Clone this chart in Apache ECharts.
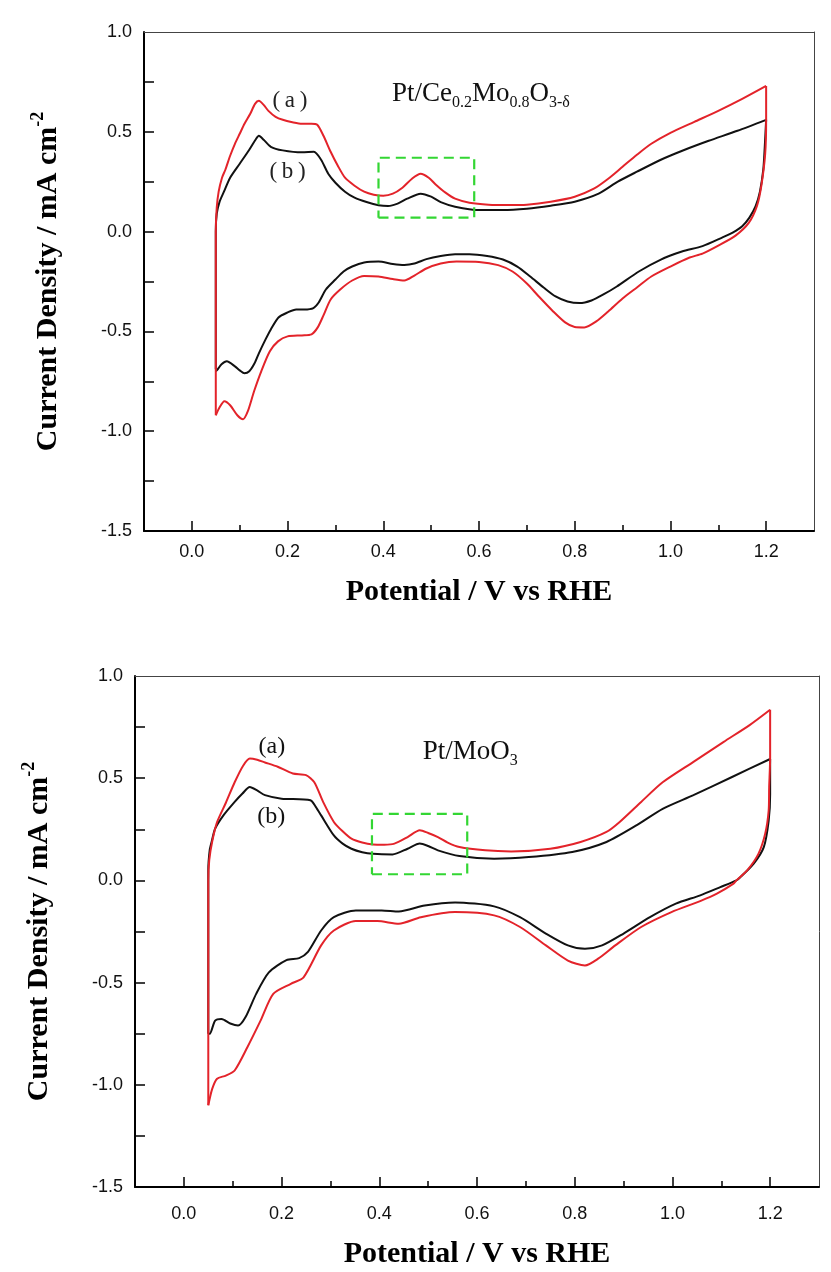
<!DOCTYPE html>
<html>
<head>
<meta charset="utf-8">
<script src="https://cdn.jsdelivr.net/npm/echarts@6/dist/echarts.min.js"></script>
<style>
  html, body { margin: 0; padding: 0; background: #fff; }
  #chart { width: 831px; height: 1272px; }
</style>
</head>
<body>
<div id="chart"></div>
<script>
// axis ticks
const xMajorTicks = [0, 0.2, 0.4, 0.6, 0.8, 1.0, 1.2]
const xMinorTicks = [0.1, 0.3, 0.5, 0.7, 0.9, 1.1]
const yLabelTicks = [-1.5, -1.0, -0.5, 0.0, 0.5, 1.0]
const yAllTicks = [-1.25, -1.0, -0.75, -0.5, -0.25, 0.0, 0.25, 0.5, 0.75]

// Pt/Ce0.2Mo0.8O3-δ  (top panel), [E (V), j (mA cm-2)]
const ceRedAnodic = [[0.05,-0.92],[0.05,-0.4],[0.05,0.0],[0.052,0.12],[0.056,0.2],[0.063,0.27],[0.07,0.31],[0.08,0.38],[0.09,0.44],[0.1,0.49],[0.11,0.54],[0.122,0.59],[0.132,0.64],[0.14,0.655],[0.15,0.635],[0.16,0.605],[0.175,0.575],[0.19,0.56],[0.21,0.548],[0.23,0.54],[0.25,0.54],[0.262,0.535],[0.275,0.48],[0.29,0.40],[0.305,0.33],[0.32,0.27],[0.34,0.23],[0.36,0.20],[0.38,0.185],[0.40,0.18],[0.42,0.19],[0.44,0.22],[0.46,0.265],[0.478,0.29],[0.495,0.27],[0.51,0.235],[0.53,0.195],[0.55,0.165],[0.58,0.145],[0.62,0.135],[0.66,0.133],[0.70,0.135],[0.75,0.15],[0.80,0.175],[0.84,0.215],[0.87,0.265],[0.90,0.325],[0.93,0.385],[0.96,0.44],[1.0,0.495],[1.05,0.55],[1.1,0.605],[1.15,0.665],[1.2,0.73]]
const ceRedCathodic = [[1.2,0.73],[1.2,0.56],[1.198,0.39],[1.19,0.23],[1.181,0.13],[1.164,0.045],[1.136,-0.02],[1.10,-0.07],[1.067,-0.11],[1.04,-0.13],[1.0,-0.175],[0.96,-0.225],[0.93,-0.28],[0.9,-0.335],[0.87,-0.4],[0.845,-0.45],[0.82,-0.48],[0.80,-0.478],[0.78,-0.455],[0.755,-0.40],[0.725,-0.325],[0.70,-0.26],[0.67,-0.2],[0.64,-0.168],[0.6,-0.152],[0.553,-0.15],[0.52,-0.16],[0.49,-0.185],[0.465,-0.22],[0.444,-0.245],[0.42,-0.238],[0.39,-0.225],[0.36,-0.222],[0.335,-0.245],[0.31,-0.29],[0.29,-0.34],[0.275,-0.42],[0.263,-0.48],[0.25,-0.515],[0.23,-0.52],[0.2,-0.525],[0.18,-0.55],[0.163,-0.6],[0.145,-0.7],[0.13,-0.8],[0.117,-0.9],[0.107,-0.94],[0.095,-0.92],[0.08,-0.87],[0.068,-0.85],[0.058,-0.88],[0.05,-0.92]]
const ceBlackAnodic = [[0.05,-0.69],[0.05,-0.3],[0.05,0.0],[0.052,0.09],[0.058,0.15],[0.067,0.2],[0.08,0.27],[0.1,0.34],[0.12,0.41],[0.133,0.46],[0.14,0.48],[0.15,0.46],[0.165,0.425],[0.19,0.407],[0.23,0.397],[0.255,0.40],[0.27,0.36],[0.285,0.29],[0.30,0.245],[0.32,0.2],[0.34,0.17],[0.365,0.148],[0.39,0.132],[0.41,0.128],[0.43,0.14],[0.45,0.165],[0.478,0.19],[0.50,0.175],[0.52,0.148],[0.55,0.125],[0.60,0.108],[0.65,0.108],[0.70,0.115],[0.75,0.13],[0.80,0.15],[0.85,0.19],[0.89,0.25],[0.93,0.3],[0.98,0.36],[1.03,0.41],[1.08,0.455],[1.14,0.505],[1.2,0.56]]
const ceBlackCathodic = [[1.2,0.56],[1.197,0.42],[1.194,0.31],[1.187,0.2],[1.178,0.127],[1.165,0.07],[1.15,0.027],[1.13,-0.005],[1.108,-0.03],[1.067,-0.073],[1.024,-0.1],[0.98,-0.14],[0.934,-0.2],[0.888,-0.275],[0.86,-0.315],[0.835,-0.345],[0.81,-0.358],[0.785,-0.35],[0.76,-0.325],[0.735,-0.28],[0.707,-0.225],[0.68,-0.175],[0.65,-0.14],[0.617,-0.122],[0.58,-0.113],[0.55,-0.113],[0.52,-0.122],[0.49,-0.138],[0.465,-0.16],[0.444,-0.167],[0.42,-0.162],[0.39,-0.15],[0.36,-0.155],[0.335,-0.175],[0.317,-0.2],[0.3,-0.24],[0.28,-0.29],[0.265,-0.355],[0.254,-0.383],[0.235,-0.39],[0.218,-0.39],[0.2,-0.405],[0.181,-0.43],[0.165,-0.49],[0.154,-0.54],[0.14,-0.61],[0.131,-0.66],[0.12,-0.7],[0.11,-0.71],[0.1,-0.695],[0.09,-0.675],[0.073,-0.65],[0.062,-0.665],[0.054,-0.69],[0.05,-0.7]]
const ceBox = [[0.39,0.07],[0.59,0.07],[0.59,0.37],[0.39,0.37],[0.39,0.07]]
const ceNotePos = [[0.205,0.655],[0.2,0.30],[0.604,0.69]]
const ceNoteText = ['{a|(\u2009a\u2009)}', '{a|(\u2009b\u2009)}', '{m|Pt/Ce}{s|0.2}{m|Mo}{s|0.8}{m|O}{s|3-δ}']

// Pt/MoO3 (bottom panel)
const moRedAnodic = [[0.05,-1.1],[0.05,-0.5],[0.05,0.0],[0.052,0.1],[0.058,0.19],[0.068,0.285],[0.086,0.38],[0.104,0.48],[0.121,0.56],[0.135,0.596],[0.15,0.59],[0.166,0.577],[0.192,0.556],[0.223,0.523],[0.25,0.515],[0.267,0.48],[0.285,0.384],[0.307,0.286],[0.325,0.24],[0.343,0.204],[0.365,0.185],[0.387,0.176],[0.41,0.175],[0.431,0.18],[0.458,0.212],[0.483,0.245],[0.50,0.232],[0.52,0.212],[0.54,0.185],[0.564,0.163],[0.617,0.147],[0.67,0.142],[0.75,0.155],[0.812,0.188],[0.865,0.237],[0.892,0.286],[0.936,0.384],[0.98,0.48],[1.043,0.58],[1.105,0.678],[1.158,0.76],[1.2,0.835]]
const moRedCathodic = [[1.2,0.835],[1.2,0.6],[1.198,0.456],[1.197,0.342],[1.19,0.23],[1.176,0.13],[1.153,0.049],[1.131,0.0],[1.125,-0.016],[1.091,-0.065],[1.058,-0.1],[0.998,-0.155],[0.936,-0.228],[0.883,-0.318],[0.848,-0.383],[0.821,-0.416],[0.786,-0.392],[0.741,-0.318],[0.688,-0.228],[0.635,-0.171],[0.555,-0.155],[0.485,-0.18],[0.44,-0.212],[0.396,-0.199],[0.352,-0.199],[0.307,-0.245],[0.281,-0.318],[0.245,-0.474],[0.219,-0.506],[0.183,-0.555],[0.157,-0.686],[0.13,-0.816],[0.104,-0.93],[0.086,-0.955],[0.068,-0.97],[0.058,-1.02],[0.05,-1.1]]
const moBlackAnodic = [[0.05,-0.75],[0.05,-0.3],[0.05,0.05],[0.053,0.15],[0.057,0.19],[0.064,0.253],[0.081,0.318],[0.104,0.384],[0.12,0.425],[0.135,0.457],[0.15,0.44],[0.166,0.417],[0.2,0.40],[0.259,0.392],[0.27,0.36],[0.281,0.318],[0.307,0.22],[0.325,0.18],[0.343,0.155],[0.365,0.138],[0.387,0.13],[0.427,0.127],[0.458,0.155],[0.483,0.18],[0.50,0.168],[0.52,0.147],[0.564,0.119],[0.635,0.106],[0.706,0.114],[0.795,0.139],[0.865,0.188],[0.927,0.27],[0.98,0.35],[1.043,0.417],[1.122,0.506],[1.2,0.594]]
const moBlackCathodic = [[1.2,0.594],[1.2,0.42],[1.197,0.293],[1.187,0.163],[1.166,0.081],[1.139,0.016],[1.131,0.0],[1.098,-0.033],[1.057,-0.073],[1.007,-0.114],[0.954,-0.18],[0.9,-0.26],[0.856,-0.318],[0.821,-0.335],[0.786,-0.318],[0.741,-0.26],[0.688,-0.18],[0.635,-0.127],[0.555,-0.108],[0.493,-0.123],[0.44,-0.152],[0.405,-0.147],[0.352,-0.147],[0.307,-0.18],[0.281,-0.245],[0.254,-0.35],[0.236,-0.38],[0.21,-0.39],[0.174,-0.45],[0.148,-0.555],[0.126,-0.67],[0.111,-0.71],[0.095,-0.70],[0.077,-0.678],[0.064,-0.686],[0.053,-0.75],[0.05,-0.75]]
const moBox = [[0.385,0.03],[0.58,0.03],[0.58,0.325],[0.385,0.325],[0.385,0.03]]
const moNotePos = [[0.18,0.654],[0.179,0.31],[0.586,0.63]]
const moNoteText = ['(a)', '(b)', '{m|Pt/MoO}{s|3}']

const RED = '#e3232a'
const BLACK = '#111'
const GREEN = '#33d633'
const SERIF = "'Liberation Serif', 'Times New Roman', serif"
const SANS = "'Liberation Sans', Arial, sans-serif"

const grids = [
  { left: 144, top: 32, width: 670, height: 499 },
  { left: 135, top: 676, width: 684, height: 511 }
]
const labelMargins = [12, 18]
const nameGaps = [46, 52]

const xAxes = []
const yAxes = []
grids.forEach((g, i) => {
  xAxes.push({
    gridIndex: i, type: 'value', min: -0.1, max: 1.3, position: 'bottom',
    axisLine: { onZero: false, lineStyle: { color: '#000', width: 2 } },
    axisTick: { inside: true, length: 10, customValues: xMajorTicks, lineStyle: { color: '#000', width: 1.5 } },
    axisLabel: { customValues: xMajorTicks, formatter: v => v.toFixed(1), fontFamily: SANS, fontSize: 18, color: '#111', margin: labelMargins[i] },
    splitLine: { show: false },
    name: 'Potential / V vs RHE', nameLocation: 'middle', nameGap: nameGaps[i],
    nameTextStyle: { fontFamily: SERIF, fontWeight: 'bold', fontSize: 30, color: '#000' }
  })
  xAxes.push({
    gridIndex: i, type: 'value', min: -0.1, max: 1.3, position: 'bottom',
    axisLine: { show: false, onZero: false },
    axisTick: { inside: true, length: 6, customValues: xMinorTicks, lineStyle: { color: '#000', width: 1.5 } },
    axisLabel: { show: false }, splitLine: { show: false }
  })
  xAxes.push({
    gridIndex: i, type: 'value', min: -0.1, max: 1.3, position: 'top',
    axisLine: { onZero: false, lineStyle: { color: '#444', width: 1 } },
    axisTick: { show: false }, axisLabel: { show: false }, splitLine: { show: false }
  })
  yAxes.push({
    gridIndex: i, type: 'value', min: -1.5, max: 1.0, position: 'left',
    axisLine: { onZero: false, lineStyle: { color: '#000', width: 2 } },
    axisTick: { inside: true, length: 10, customValues: yAllTicks, lineStyle: { color: '#000', width: 1.5 } },
    axisLabel: { customValues: yLabelTicks, formatter: v => v.toFixed(1), fontFamily: SANS, fontSize: 18, color: '#111', margin: 12 },
    splitLine: { show: false },
    name: '{t|Current Density / mA cm}{sup|-2}', nameLocation: 'middle', nameRotate: 90, nameGap: 80,
    nameTextStyle: {
      rich: {
        t: { fontFamily: SERIF, fontWeight: 'bold', fontSize: 30, lineHeight: 32, color: '#000' },
        sup: { fontFamily: SERIF, fontWeight: 'bold', fontSize: 18, lineHeight: 32, padding: [0, 0, 20, 0], color: '#000' }
      }
    }
  })
  yAxes.push({
    gridIndex: i, type: 'value', min: -1.5, max: 1.0, position: 'right',
    axisLine: { onZero: false, lineStyle: { color: '#444', width: 1 } },
    axisTick: { show: false }, axisLabel: { show: false }, splitLine: { show: false }
  })
})

const noteRich = {
  m: { fontFamily: SERIF, fontSize: 27, lineHeight: 30, color: '#111' },
  s: { fontFamily: SERIF, fontSize: 16, lineHeight: 30, padding: [18, 0, 0, 0], color: '#111' },
  a: { fontFamily: SERIF, fontSize: 23, color: '#222' }
}

function panelSeries(i, curves, box, notePos, noteText, noteSize) {
  const xi = i * 3, yi = i * 2
  const out = curves.map(([data, color]) => ({
    type: 'line', xAxisIndex: xi, yAxisIndex: yi, data,
    symbol: 'none', smooth: 0.25, silent: true,
    lineStyle: { color, width: 2 }
  }))
  out.push({
    type: 'line', xAxisIndex: xi, yAxisIndex: yi, data: box,
    symbol: 'none', silent: true,
    lineStyle: { color: GREEN, width: 2.2, type: [10, 6] }
  })
  out.push({
    type: 'scatter', xAxisIndex: xi, yAxisIndex: yi, symbolSize: 1, silent: true,
    itemStyle: { color: 'rgba(0,0,0,0)', opacity: 1 },
    data: notePos.map((p, k) => ({
      value: p,
      label: {
        show: true, position: 'inside', formatter: noteText[k],
        fontFamily: SERIF, fontSize: noteSize, color: '#111',
        rich: noteRich
      }
    }))
  })
  return out
}

const series = [].concat(
  panelSeries(0, [[ceBlackAnodic, BLACK], [ceBlackCathodic, BLACK], [ceRedAnodic, RED], [ceRedCathodic, RED]], ceBox, ceNotePos, ceNoteText, 22),
  panelSeries(1, [[moBlackAnodic, BLACK], [moBlackCathodic, BLACK], [moRedAnodic, RED], [moRedCathodic, RED]], moBox, moNotePos, moNoteText, 24)
)

const chart = echarts.init(document.getElementById('chart'))
chart.setOption({
  animation: false,
  backgroundColor: '#fff',
  grid: grids,
  xAxis: xAxes,
  yAxis: yAxes,
  series
})
</script>
</body>
</html>
